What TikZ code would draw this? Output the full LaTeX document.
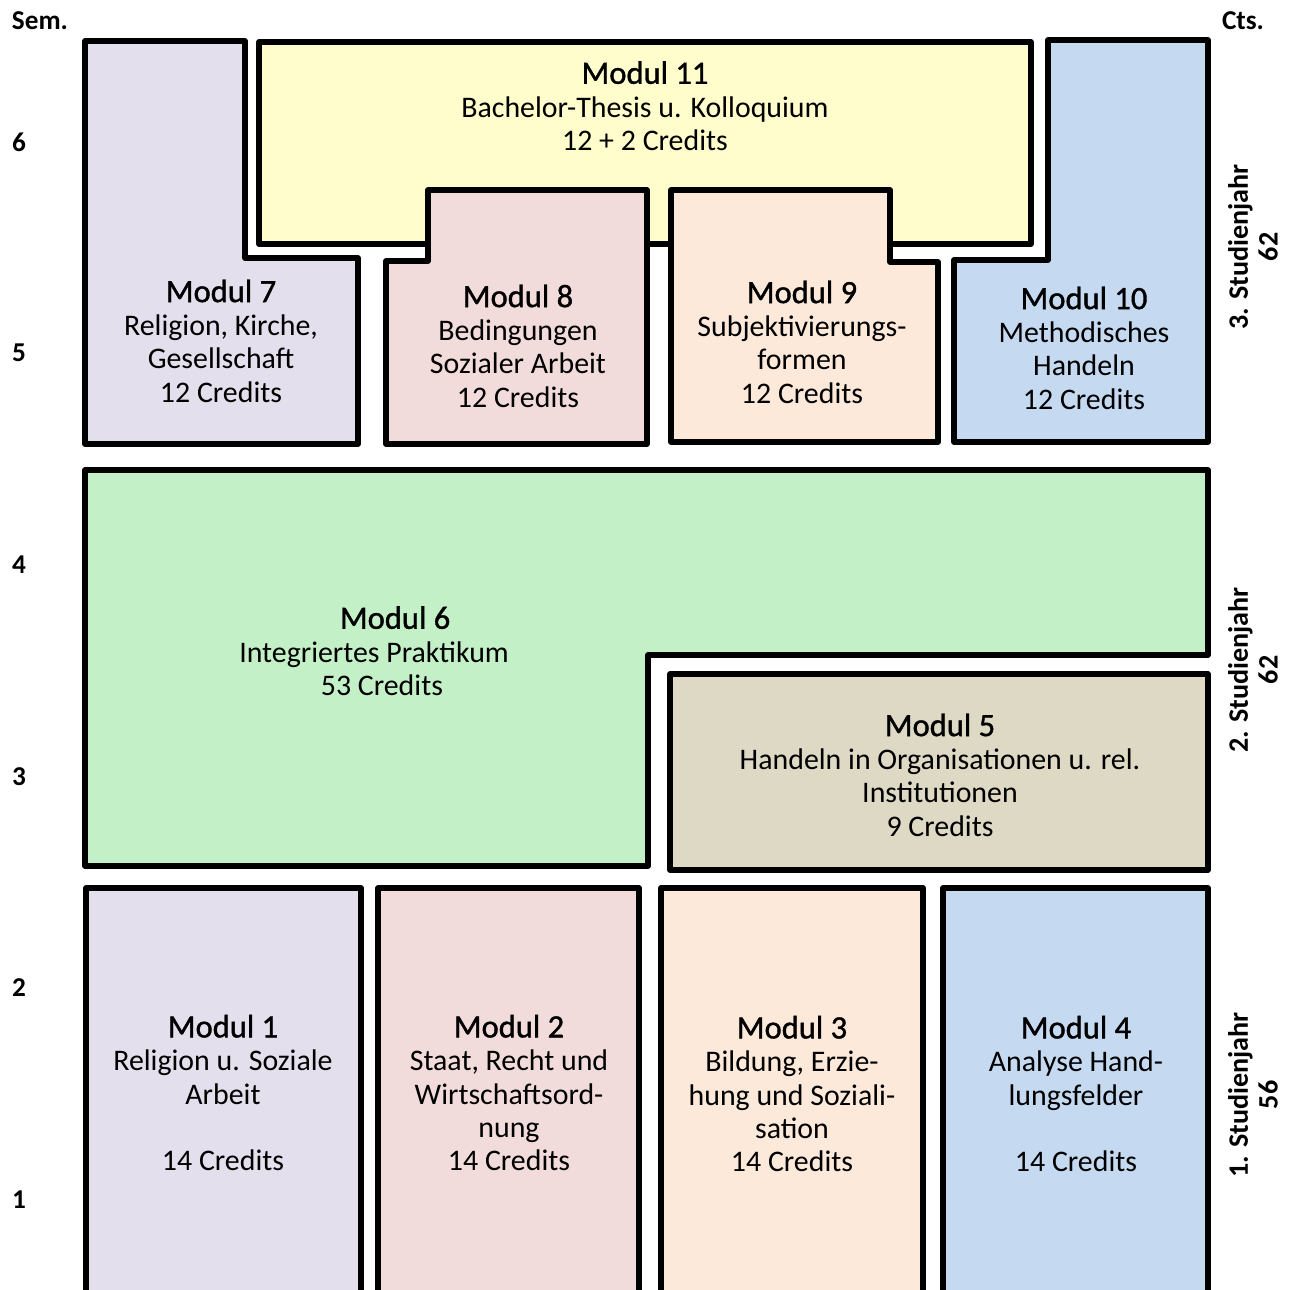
\documentclass[tikz,border=0pt]{standalone}
\usepackage{fontspec}
\setmainfont{Carlito}
\newfontfamily\titlefont[FakeBold=1.2]{Carlito}
\definecolor{cLav}{HTML}{E4DFEC}
\definecolor{cPink}{HTML}{F2DCDB}
\definecolor{cPeach}{HTML}{FDE9D9}
\definecolor{cBlue}{HTML}{C5D9F1}
\definecolor{cYel}{HTML}{FFFDCB}
\definecolor{cGreen}{HTML}{C4F0C8}
\definecolor{cTan}{HTML}{DDD9C4}
\tikzset{
  modbox/.style={draw=black, line width=3.2pt, line join=round},
  modtxt/.style={align=center, inner sep=0pt, font=\fontsize{17}{19}\selectfont},
  sidelbl/.style={inner sep=0pt, font=\bfseries\fontsize{15.5}{17}\selectfont},
  yearlbl/.style={rotate=90, align=center, inner sep=0pt, font=\bfseries\fontsize{16}{17}\selectfont},
}
\newcommand{\mtitle}[1]{{\titlefont\fontsize{18.5}{20}\selectfont #1}}
\begin{document}
\begin{tikzpicture}[x=0.02cm,y=-0.02cm]
\useasboundingbox (0,0) rectangle (1296,1290);
\clip (0,0) rectangle (1296,1290);
% Modul 11
\path[modbox, fill=cYel] (259,42) rectangle (1031,244);
% Modul 7
\path[modbox, fill=cLav] (85,41) -- (245,41) -- (245,258) -- (358,258) -- (358,444) -- (85,444) -- cycle;
% Modul 8
\path[modbox, fill=cPink] (386,261) -- (428,261) -- (428,190) -- (647,190) -- (647,444) -- (386,444) -- cycle;
% Modul 9
\path[modbox, fill=cPeach] (671,190) -- (890,190) -- (890,262) -- (938,262) -- (938,442) -- (671,442) -- cycle;
% Modul 10
\path[modbox, fill=cBlue] (1048,40) -- (1208,40) -- (1208,442) -- (954,442) -- (954,260) -- (1048,260) -- cycle;
% Modul 6
\path[modbox, fill=cGreen] (85,470) -- (1208,470) -- (1208,655) -- (648,655) -- (648,866) -- (85,866) -- cycle;
% Modul 5
\path[modbox, fill=cTan] (670,674) rectangle (1208,870);
% Bottom row
\path[modbox, fill=cLav] (86,1310) -- (86,888) -- (361,888) -- (361,1310);
\path[modbox, fill=cPink] (378,1310) -- (378,888) -- (639,888) -- (639,1310);
\path[modbox, fill=cPeach] (661,1310) -- (661,888) -- (923,888) -- (923,1310);
\path[modbox, fill=cBlue] (943,1310) -- (943,888) -- (1208,888) -- (1208,1310);

% texts
\node[modtxt] (m11) at (645,106) {\mtitle{Modul 11}\\Bachelor-Thesis u. Kolloquium\\12 + 2 Credits};
\node[modtxt] (m7) at (221,341) {\mtitle{Modul 7}\\Religion, Kirche,\\Gesellschaft\\12 Credits};
\node[modtxt] (m8) at (518,346) {\mtitle{Modul 8}\\Bedingungen\\Sozialer Arbeit\\12 Credits};
\node[modtxt] (m9) at (802,342) {\mtitle{Modul 9}\\Subjektivierungs-\\formen\\12 Credits};
\node[modtxt] (m10) at (1084,348) {\mtitle{Modul 10}\\Methodisches\\Handeln\\12 Credits};
\node[modtxt] (m6) at (374,651) {\hspace*{24pt}\mtitle{Modul 6}\\Integriertes Praktikum\\\hspace*{9pt}53 Credits};
\node[modtxt] (m5) at (940,775) {\mtitle{Modul 5}\\Handeln in Organisationen u. rel.\\Institutionen\\9 Credits};
\node[modtxt] (m1) at (223,1093) {\mtitle{Modul 1}\\Religion u. Soziale\\Arbeit\\\strut\\14 Credits};
\node[modtxt] (m2) at (509,1093) {\mtitle{Modul 2}\\Staat, Recht und\\Wirtschaftsord-\\nung\\14 Credits};
\node[modtxt] (m3) at (792,1094) {\mtitle{Modul 3}\\Bildung, Erzie-\\hung und Soziali-\\sation\\14 Credits};
\node[modtxt] (m4) at (1076,1094) {\mtitle{Modul 4}\\Analyse Hand-\\lungsfelder\\\strut\\14 Credits};

% side labels
\node[sidelbl] (sem) at (40,21) {Sem.};
\node[sidelbl] (cts) at (1243,21) {Cts.};
\node[sidelbl] (s6) at (19,142) {6};
\node[sidelbl] (s5) at (19,353) {5};
\node[sidelbl] (s4) at (19,565) {4};
\node[sidelbl] (s3) at (19,777) {3};
\node[sidelbl] (s2) at (19,988) {2};
\node[sidelbl] (s1) at (19,1200) {1};
\node[yearlbl] (y3) at (1253,247) {3. Studienjahr\\62};
\node[yearlbl] (y2) at (1253,670) {2. Studienjahr\\62};
\node[yearlbl] (y1) at (1253,1095) {1. Studienjahr\\56};
\end{tikzpicture}
\end{document}
